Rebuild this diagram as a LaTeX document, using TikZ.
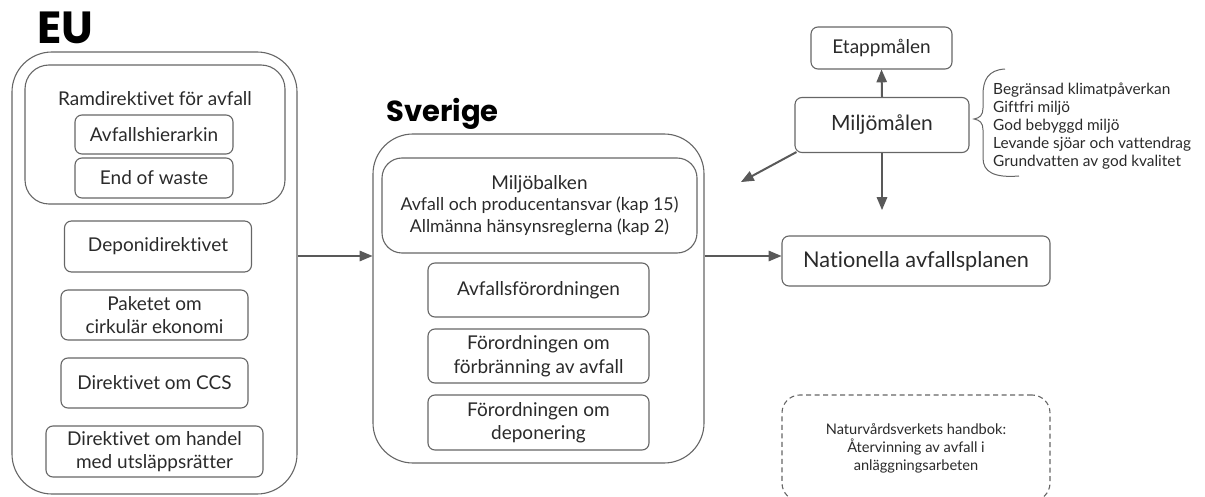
\documentclass[tikz,border=0pt]{standalone}
\usepackage{fontspec}
\setmainfont{Lato}[Ligatures={NoCommon}]
\newfontfamily\headfont{Poppins}
\usepackage{tikz}
\usetikzlibrary{shapes,arrows,positioning}

\definecolor{linegray}{HTML}{666666}
\definecolor{arrowgray}{HTML}{595959}
\definecolor{textgray}{HTML}{2A2A2A}

\begin{document}
\begin{tikzpicture}[
        x=1pt, y=-1pt,
        >=triangle 45,
        box/.style={draw=linegray, line width=1.1pt, rounded corners=7pt, align=center,
            text=textgray, inner sep=0pt, font=\fontsize{19}{23.5}\selectfont},
        bigbox/.style={box, rounded corners=40pt},
        groupbox/.style={box, rounded corners=24pt},
        dashbox/.style={box, rounded corners=18pt, dash pattern=on 5pt off 3.5pt,
            font=\fontsize{14.6}{18}\selectfont},
        heading/.style={anchor=base west, inner sep=0pt, text=black, font=\headfont\bfseries},
        flow/.style={->, draw=arrowgray, line width=2pt},
        plain/.style={inner sep=0pt, text=textgray},
    ]
    \useasboundingbox (0,0) rectangle (1205,497);

    %Draw the EU part
    \node [heading, font=\headfont\bfseries\fontsize{45}{45}\selectfont] (eutitle) at (37,44) {EU};
    \node [bigbox, minimum width=285, minimum height=442] (eu) at (154.5,273) {};
    \node [groupbox, minimum width=260, minimum height=139] (ram) at (155,134.5) {};
    \node [plain, font=\fontsize{19}{23}\selectfont] (ramtitle) at (155,99) {Ramdirektivet för avfall};
    \node [box, minimum width=158, minimum height=39] (hier) at (154,134.5) {Avfallshierarkin};
    \node [box, minimum width=158, minimum height=40] (eow) at (154,178) {End of waste};
    \node [box, minimum width=187, minimum height=51] (depdir) at (158,246.5) {Deponidirektivet};
    \node [box, minimum width=187, minimum height=50] (paket) at (154.5,315) {Paketet om\\cirkulär ekonomi};
    \node [box, minimum width=187, minimum height=50] (ccs) at (154.5,383) {Direktivet om CCS};
    \node [box, minimum width=217, minimum height=51] (handel) at (154.5,451.5) {Direktivet om handel\\med utsläppsrätter};

    %Draw the Swedish part
    \node [heading, font=\headfont\bfseries\fontsize{29}{29}\selectfont] (svtitle) at (386,122) {Sverige};
    \node [bigbox, minimum width=331, minimum height=329] (sv) at (538.5,298.5) {};
    \node [groupbox, rounded corners=20pt, minimum width=315, minimum height=95, font=\fontsize{17.7}{21.5}\selectfont] (mb) at (539.5,205.5)
        {{\fontsize{19}{21.5}\selectfont Miljöbalken}\\Avfall och producentansvar (kap 15)\\Allmänna hänsynsreglerna (kap 2)};
    \node [box, minimum width=221, minimum height=54] (avff) at (538.5,290) {Avfallsförordningen};
    \node [box, minimum width=221, minimum height=54] (forbr) at (538.5,356) {Förordningen om\\förbränning av avfall};
    \node [box, minimum width=221, minimum height=55] (depon) at (538.5,422.5) {Förordningen om\\deponering};

    %Draw the national goals and plan
    \node [box, minimum width=141, minimum height=42] (etapp) at (881.5,48) {Etappmålen};
    \node [box, minimum width=174, minimum height=55, font=\fontsize{21}{23}\selectfont] (mm) at (882,125) {Miljömålen};
    \node [box, minimum width=268, minimum height=50, font=\fontsize{21.7}{23}\selectfont] (nat) at (916,261) {Nationella avfallsplanen};
    \node [dashbox, minimum width=268, minimum height=106] (handbok) at (916,448)
        {Naturvårdsverkets handbok:\\Återvinning av avfall i\\anläggningsarbeten};

    %Draw the list of goals with its brace
    \draw [linegray, line width=1pt] (1005,69) .. controls (988,70) and (983,80) .. (983,95) -- (983,108)
        .. controls (983,115) and (980,118) .. (974,119) .. controls (980,120) and (983,123) .. (983,130)
        -- (983,158) .. controls (983,172) and (994,178) .. (1019,176);
    \node [plain, anchor=west, align=left, font=\fontsize{15.4}{18}\selectfont] (goals) at (993,126)
        {Begränsad klimatpåverkan\\Giftfri miljö\\God bebyggd miljö\\Levande sjöar och vattendrag\\Grundvatten av god kvalitet};

    %Draw the arrows
    \coordinate (mmdown) at (882,210);
    \coordinate (mmleft) at (741,182);
    \draw [flow] (eu.east |- 0,256) -- (sv.west |- 0,256);
    \draw [flow] (sv.east |- 0,256) -- (nat.west |- 0,256);
    \draw [flow] (mm.north) -- (etapp.south);
    \draw [flow] (mm.south) -- (mmdown);
    \draw [flow] ([shift={(2,-1)}]mm.south west) -- (mmleft);
\end{tikzpicture}
\end{document}
